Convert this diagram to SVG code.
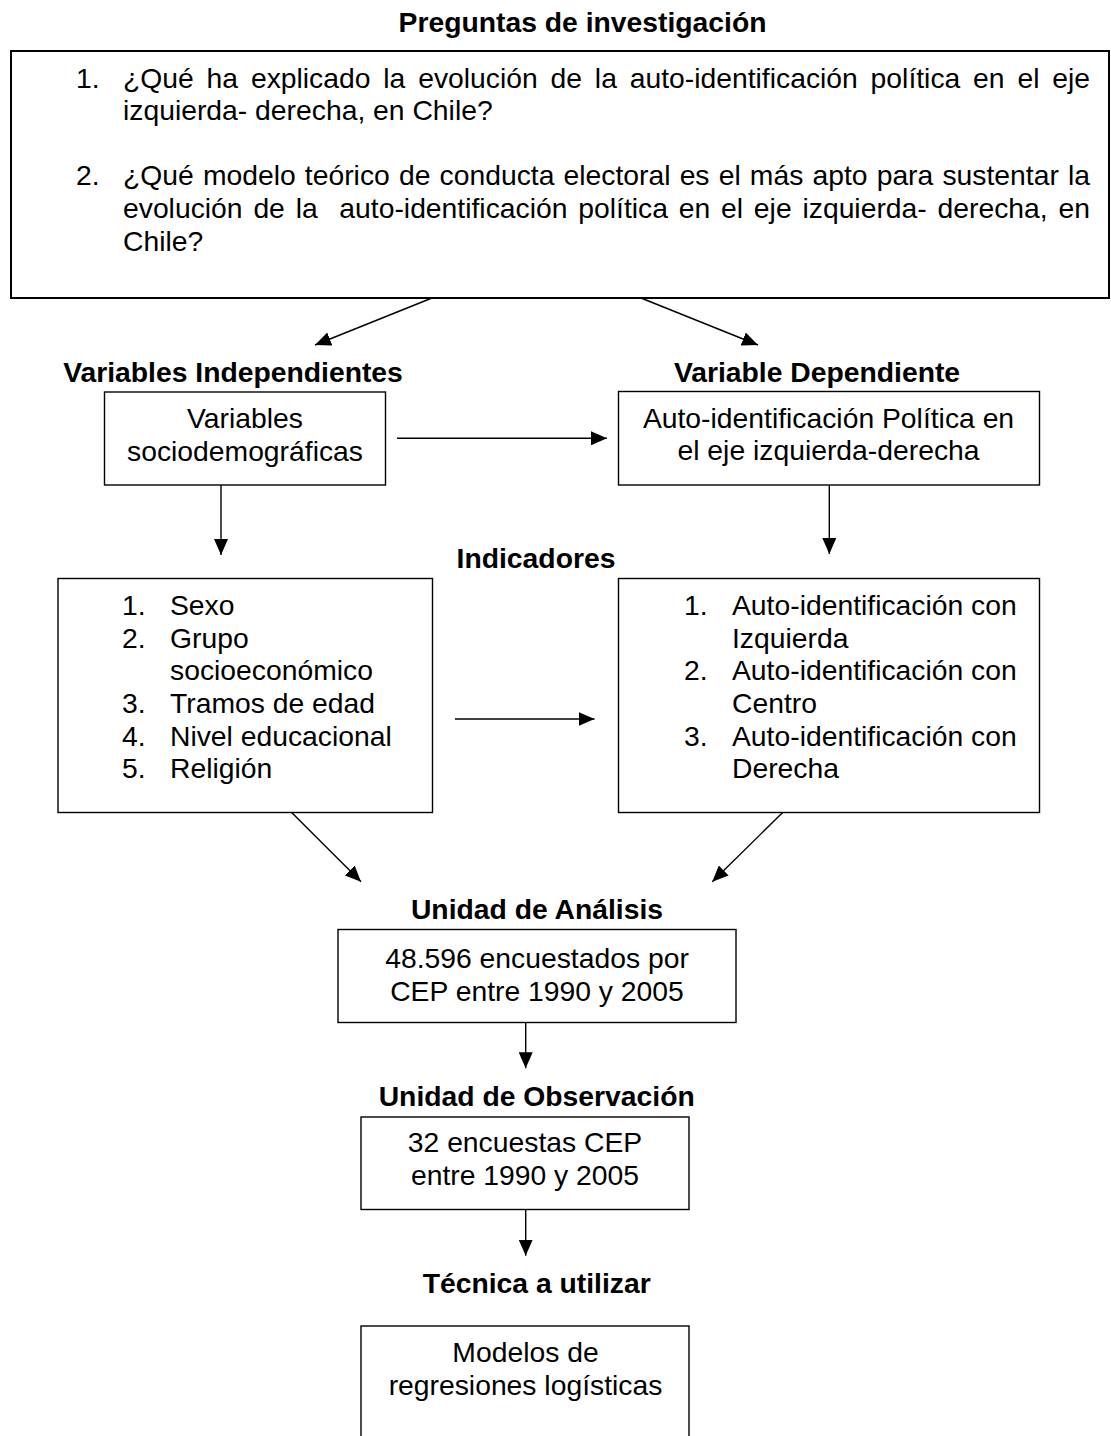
<svg xmlns="http://www.w3.org/2000/svg" width="1111" height="1436" viewBox="0 0 1111 1436">
<defs>
<style>
text{font-family:"Liberation Sans",Arial,sans-serif;font-size:28.3px;fill:#000}
.h{font-weight:bold;text-anchor:middle}
.c{text-anchor:middle}
.box{fill:#fff;stroke:#000;stroke-width:1.4}
.big{fill:#fff;stroke:#000;stroke-width:2}
.ln{stroke:#000;stroke-width:1.4;fill:none;marker-end:url(#ah)}
</style>
<marker id="ah" markerWidth="16" markerHeight="14" refX="16" refY="7" orient="auto" markerUnits="userSpaceOnUse">
<path d="M0,0 L16,7 L0,14 z" fill="#000"/>
</marker>
</defs>
<rect width="1111" height="1436" fill="#fff"/>

<g id="title">
<text class="h" x="582.5" y="31.5">Preguntas de investigación</text>
</g>

<g id="preguntas">
<rect class="big" x="11" y="51" width="1098" height="247"/>
<text x="76" y="88">1.</text>
<text x="123" y="88" style="word-spacing:4.97px">¿Qué ha explicado la evolución de la auto-identificación política en el eje</text>
<text x="123" y="120">izquierda- derecha, en Chile?</text>
<text x="76" y="185">2.</text>
<text x="123" y="185" style="word-spacing:1.28px">¿Qué modelo teórico de conducta electoral es el más apto para sustentar la</text>
<text x="123" y="218" xml:space="preserve" style="word-spacing:2.96px;white-space:pre">evolución de la  auto-identificación política en el eje izquierda- derecha, en</text>
<text x="123" y="250.5">Chile?</text>
</g>

<g id="head-independientes">
<text class="h" x="233" y="381.5">Variables Independientes</text>
</g>
<g id="head-dependiente">
<text class="h" x="817" y="381.5">Variable Dependiente</text>
</g>

<g id="var-socio">
<rect class="box" x="104.5" y="392" width="281" height="93"/>
<text class="c" x="245" y="428">Variables</text>
<text class="c" x="245" y="460.5">sociodemográficas</text>
</g>

<g id="var-autoid">
<rect class="box" x="618.5" y="391.5" width="421" height="93.5"/>
<text class="c" x="828.5" y="428">Auto-identificación Política en</text>
<text class="c" x="828.5" y="460">el eje izquierda-derecha</text>
</g>

<g id="head-indicadores">
<text class="h" x="536" y="568">Indicadores</text>
</g>

<g id="ind-left">
<rect class="box" x="58" y="578.5" width="374.5" height="234"/>
<text x="122" y="615">1.</text><text x="170" y="615">Sexo</text>
<text x="122" y="647.5">2.</text><text x="170" y="647.5">Grupo</text>
<text x="170" y="680">socioeconómico</text>
<text x="122" y="713">3.</text><text x="170" y="713">Tramos de edad</text>
<text x="122" y="745.5">4.</text><text x="170" y="745.5">Nivel educacional</text>
<text x="122" y="778">5.</text><text x="170" y="778">Religión</text>
</g>

<g id="ind-right">
<rect class="box" x="618.5" y="578.5" width="421" height="234"/>
<text x="684" y="615">1.</text><text x="732" y="615">Auto-identificación con</text>
<text x="732" y="647.5">Izquierda</text>
<text x="684" y="680">2.</text><text x="732" y="680">Auto-identificación con</text>
<text x="732" y="713">Centro</text>
<text x="684" y="745.5">3.</text><text x="732" y="745.5">Auto-identificación con</text>
<text x="732" y="778">Derecha</text>
</g>

<g id="head-analisis">
<text class="h" x="537" y="919">Unidad de Análisis</text>
</g>
<g id="unidad-analisis">
<rect class="box" x="338" y="929.5" width="398" height="93"/>
<text class="c" x="537" y="968">48.596 encuestados por</text>
<text class="c" x="537" y="1000.5">CEP entre 1990 y 2005</text>
</g>

<g id="head-observacion">
<text class="h" x="536.7" y="1105.5">Unidad de Observación</text>
</g>
<g id="unidad-observacion">
<rect class="box" x="361" y="1117" width="328" height="92.5"/>
<text class="c" x="525" y="1152">32 encuestas CEP</text>
<text class="c" x="525" y="1185">entre 1990 y 2005</text>
</g>

<g id="head-tecnica">
<text class="h" x="536.7" y="1293">Técnica a utilizar</text>
</g>
<g id="tecnica">
<rect class="box" x="361" y="1326" width="328" height="130"/>
<text class="c" x="525.5" y="1362">Modelos de</text>
<text class="c" x="525.5" y="1395">regresiones logísticas</text>
</g>

<g id="connectors">
<line class="ln" x1="432" y1="298" x2="315" y2="345"/>
<line class="ln" x1="641" y1="298" x2="758" y2="345"/>
<line class="ln" x1="397" y1="438.3" x2="607" y2="438.3"/>
<line class="ln" x1="221" y1="485" x2="221" y2="555"/>
<line class="ln" x1="829.3" y1="485" x2="829.3" y2="554"/>
<line class="ln" x1="455" y1="719" x2="594.5" y2="719"/>
<line class="ln" x1="291.7" y1="812.5" x2="361" y2="881.7"/>
<line class="ln" x1="782.7" y1="812.5" x2="712.3" y2="881.7"/>
<line class="ln" x1="525.7" y1="1022.5" x2="525.7" y2="1068.3"/>
<line class="ln" x1="525.7" y1="1209.5" x2="525.7" y2="1255.7"/>
</g>
</svg>
